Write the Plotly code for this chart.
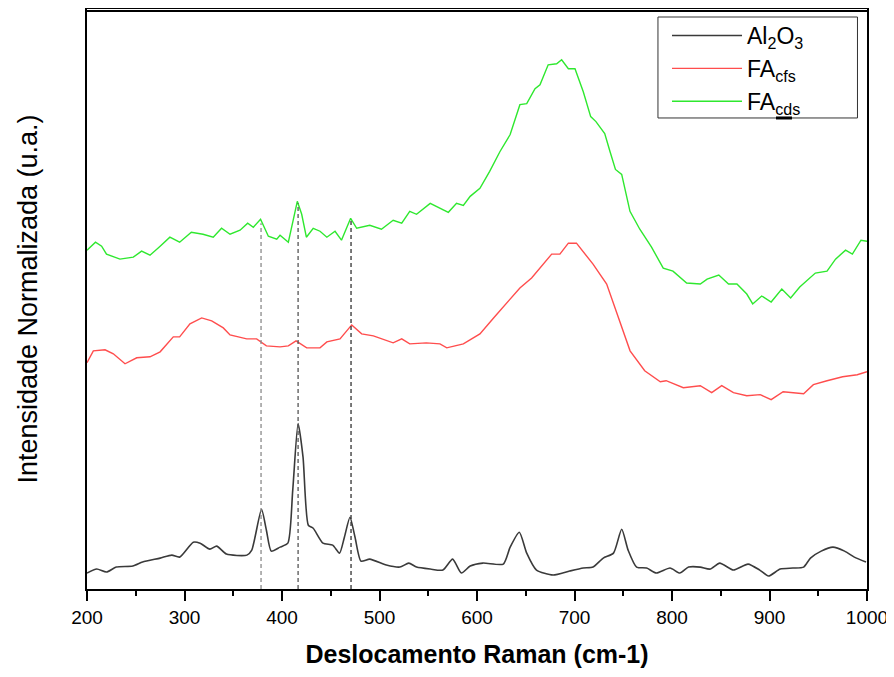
import plotly.graph_objects as go

# Raman shift (cm-1) and normalized intensity (a.u., offset stacked)
al2o3_x = [200, 210, 220, 230, 247, 257, 275, 287, 295, 309, 316, 326, 333, 343, 364, 369, 379, 384, 389, 398,
           406, 411, 416.5, 421.6, 427, 432, 442, 452, 459, 464, 469.7, 474.9, 481, 490, 507, 521, 530, 538, 552,
           565, 575, 584, 593, 606, 627, 634, 643.4, 651, 661, 678, 695, 709, 719, 729.5, 740, 748.4, 755, 763.7,
           774, 784, 798, 808, 817, 829, 839, 849, 863, 878, 890, 899, 911, 924, 935, 942, 953, 965, 977, 987, 999]
al2o3_y = [16, 20, 17, 22, 23, 27, 31, 34, 32, 47, 46, 40, 43, 35, 34, 39, 80, 59, 38, 42,
           46, 99, 166, 132, 64, 61, 46, 44, 36, 52, 72, 52, 28, 30, 24, 22, 26, 22, 20,
           19, 30, 16, 23, 26, 25, 42, 57, 36, 19, 14, 18, 21, 22, 31, 36, 60, 39, 22,
           21, 16, 21, 16, 22, 22, 20, 26, 19, 25, 19, 13, 20, 21, 22, 31, 38, 42, 38, 32, 27]

facfs_x = [200, 206.5, 218.5, 227, 239, 251, 264.6, 275, 288.5, 295, 305.6, 317.6, 327.9, 339.8, 346.7, 363.8,
           374, 384, 398, 406.5, 414.4, 425.3, 439, 446, 459.5, 471.5, 481.7, 493.7, 514, 522.8, 531, 548, 562,
           569, 586, 603, 617, 644, 656, 676.6, 685, 693.7, 702, 719, 733, 745, 757, 772, 788, 794, 811.6, 829,
           840.7, 851, 863, 876.7, 890.5, 901.7, 914, 935, 945, 959, 975, 990, 1000]
facfs_y = [227, 239, 240, 236, 226, 232, 233, 238, 253, 253, 266, 272, 269, 262, 255, 251,
           251, 244, 243, 244, 249, 242, 242, 248, 251, 265, 256, 254, 247, 251, 246, 247, 246,
           242, 246, 256, 272, 302, 312, 336, 336, 347, 347, 326, 306, 272, 239, 219, 208, 209, 202, 204,
           197, 204, 197, 194, 195, 190, 198, 196, 205, 209, 213, 215, 218]

facds_x = [200, 208.7, 215, 220, 233.8, 247.5, 256, 264.6, 275, 285, 295, 307, 319, 329.5, 338, 346.7, 357,
           364.8, 370.6, 378, 386, 394.6, 398, 406.5, 415.7, 420.2, 425, 432, 439, 446, 454.4, 461, 470.4,
           476.6, 490, 502, 514, 522.8, 531, 538, 552, 562, 570.6, 579, 586, 593, 603, 613, 623.6, 634, 644,
           651, 659.5, 664.6, 673, 681.7, 686.8, 693.7, 700.5, 709, 716.6, 722, 731, 736.4, 742, 748.4, 756.9,
           767, 779, 791, 801, 815, 829, 836, 848, 858, 866.6, 876.7, 882.8, 892, 901.7, 912.6, 921.7, 931,
           942, 947, 959, 967.7, 978, 985, 993.8, 1000]
facds_y = [340, 348, 344, 336, 331, 333, 339, 335, 344, 353, 348, 358, 356, 353, 362, 356, 360,
           367, 363, 371, 354, 351, 355, 348, 389, 376, 353, 362, 359, 353, 359, 350, 372,
           362, 365, 361, 370, 367, 379, 376, 387, 382, 378, 387, 385, 394, 402, 419, 439, 456, 486,
           487, 502, 506, 526, 527, 531, 522, 522, 499, 474, 469, 457, 439, 421, 416, 379,
           361, 343, 322, 319, 307, 306, 311, 315, 306, 306, 296, 286, 294, 288, 301, 292, 303,
           312, 317, 319, 331, 340, 336, 350, 349]

# Reference peak positions (dashed markers) and their top ends
peak_x = [378.5, 416.5, 470.8]
peak_top = [367, 387, 371]
peak_colors = ["#8a8a8a", "#555555", "#333333"]

fig = go.Figure()
fig.add_trace(go.Scatter(x=al2o3_x, y=al2o3_y, mode="lines", name="Al<sub>2</sub>O<sub>3</sub>",
                         line=dict(color="#3a3a3a", width=1.6, shape="spline", smoothing=0.6)))
fig.add_trace(go.Scatter(x=facfs_x, y=facfs_y, mode="lines", name="FA<sub>cfs</sub>",
                         line=dict(color="#ff4d4d", width=1.4)))
fig.add_trace(go.Scatter(x=facds_x, y=facds_y, mode="lines", name="FA<sub>cds</sub>",
                         line=dict(color="#2ee82e", width=1.4)))

for px, pt, pc in zip(peak_x, peak_top, peak_colors):
    fig.add_shape(type="line", x0=px, x1=px, y0=0, y1=pt, xref="x", yref="y",
                  line=dict(color=pc, width=1.3, dash="4px,3px"))

# top frame edge
fig.add_shape(type="line", xref="paper", yref="paper", x0=0, x1=1, y0=0.9966, y1=0.9966,
              line=dict(color="black", width=2), layer="above")
# legend frame
fig.add_shape(type="rect", xref="paper", yref="paper", x0=0.732, x1=0.9878, y0=0.8121, y1=0.9862,
              line=dict(color="#333333", width=1), fillcolor="white", layer="above")
# small mark under legend text
fig.add_shape(type="line", xref="paper", yref="paper", x0=0.8833, x1=0.9038, y0=0.8121, y1=0.8121,
              line=dict(color="black", width=3), layer="above")

fig.update_layout(
    width=878, height=660,
    margin=dict(l=79, r=19, t=1, b=79),
    paper_bgcolor="white", plot_bgcolor="white",
    showlegend=True,
    legend=dict(x=0.7436, y=0.9914, xanchor="left", yanchor="top",
                borderwidth=0, bgcolor="rgba(0,0,0,0)",
                font=dict(family="Liberation Sans, Arial, sans-serif", size=23, color="black"),
                itemwidth=70, tracegroupgap=0),
    xaxis=dict(range=[200, 1000], dtick=100, tick0=200, automargin=False, ticklabeloverflow="allow",
               showline=True, linecolor="black", linewidth=2, mirror=True,
               ticks="outside", ticklen=10, tickwidth=2, tickcolor="black",
               minor=dict(dtick=50, ticks="outside", ticklen=5, tickwidth=2, tickcolor="black"),
               showgrid=False, zeroline=False,
               tickfont=dict(family="Liberation Sans, Arial, sans-serif", size=19, color="black"),
               title=dict(text="<b>Deslocamento Raman (cm-1)</b>", standoff=31,
                          font=dict(family="Liberation Sans, Arial, sans-serif", size=25, color="black"))),
    yaxis=dict(range=[0, 582], showticklabels=False, ticks="", automargin=False,
               showline=True, linecolor="black", linewidth=2, mirror=True,
               showgrid=False, zeroline=False,
               title=dict(text="Intensidade Normalizada (u.a.)", standoff=40,
                          font=dict(family="Liberation Sans, Arial, sans-serif", size=27, color="black"))),
)

fig.write_html("out.html")
